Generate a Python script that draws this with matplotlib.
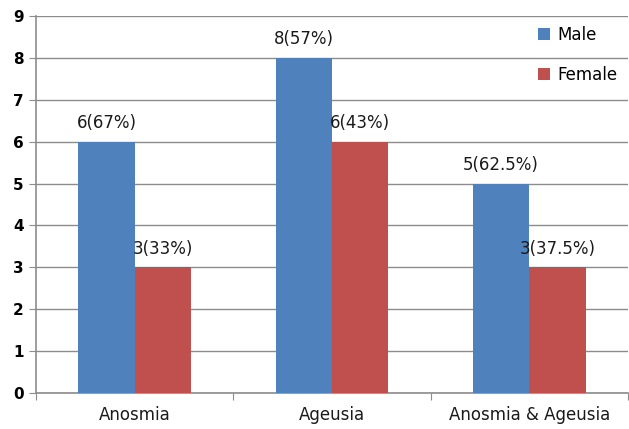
import matplotlib
matplotlib.use("Agg")
from matplotlib import pyplot as plt
import numpy as np

categories = ["Anosmia", "Ageusia", "Anosmia & Ageusia"]
male = [6, 8, 5]
female = [3, 6, 3]
male_labels = ["6(67%)", "8(57%)", "5(62.5%)"]
female_labels = ["3(33%)", "6(43%)", "3(37.5%)"]

BLUE = "#4F81BD"
RED = "#C0504D"
GRID = "#8C8C8C"

plt.rcParams["font.family"] = ["DejaVu Sans"]

fig = plt.figure(figsize=(6.29, 4.29), dpi=100)
ax = fig.add_axes([36 / 629, 36 / 429, 592 / 629, 377 / 429])

x = np.arange(len(categories))
w = 1 / 3.5
b1 = ax.bar(x - w / 2, male, w, color=BLUE, label="Male", zorder=3)
b2 = ax.bar(x + w / 2, female, w, color=RED, label="Female", zorder=3)

for bars, labels in ((b1, male_labels), (b2, female_labels)):
    for r, t in zip(bars, labels):
        ax.annotate(t, (r.get_x() + r.get_width() / 2, r.get_height()),
                    xytext=(0, 7), textcoords="offset points",
                    ha="center", va="bottom", fontsize=12, color="#1a1a1a")

ax.set_xlim(-0.5, 2.5)
ax.set_ylim(0, 9)
ax.set_yticks(range(10))
ax.set_xticks([-0.5, 0.5, 1.5, 2.5])
ax.set_xticklabels([])
ax.set_xticks(x, minor=True)
ax.set_xticklabels(categories, minor=True, fontsize=12, color="#1a1a1a")
ax.tick_params(axis="x", which="minor", length=0, pad=9)
ax.tick_params(axis="x", which="major", length=5, color=GRID, direction="out")
ax.tick_params(axis="y", length=5, color=GRID, labelsize=11, pad=4)
for lab in ax.get_yticklabels():
    lab.set_fontweight("bold")

ax.grid(axis="y", color=GRID, linewidth=1, zorder=0)
for s in ("top", "right"):
    ax.spines[s].set_visible(False)
for s in ("left", "bottom"):
    ax.spines[s].set_color(GRID)
    ax.spines[s].set_linewidth(1.2)

ax.legend(loc="upper right", bbox_to_anchor=(1.0, 1.0), frameon=False,
          fontsize=12, handlelength=0.7, handleheight=0.7, labelspacing=1.3,
          handletextpad=0.5, borderaxespad=0.2)

fig.savefig("out.png", dpi=100)
